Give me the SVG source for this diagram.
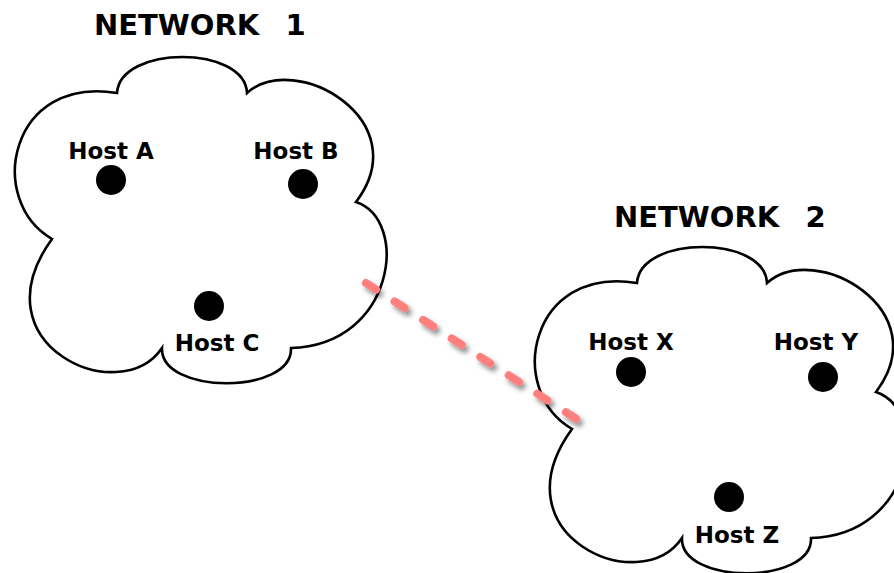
<svg xmlns="http://www.w3.org/2000/svg" xmlns:xlink="http://www.w3.org/1999/xlink" width="894" height="573" viewBox="0 0 894 573">
<style>
.cloud{fill:#fff;stroke:#000;stroke-width:2.6;stroke-linejoin:miter}
.dot{fill:#000}
.lbl{font-family:"DejaVu Sans",sans-serif;font-weight:bold;font-size:23px;fill:#000;text-anchor:middle}
.title{font-family:"DejaVu Sans",sans-serif;font-weight:bold;font-size:29px;fill:#000;word-spacing:3px}
.link{fill:none;stroke:#FF7F7F;stroke-width:8;stroke-linecap:round;stroke-dasharray:12 22}
</style>
<defs>
<path id="cloudShape" d="M52,239 C-15,200 10,75 117,93 C120,45 245,45 247,93 C295,50 418,120 356,202 C410,220 395,345 291,348 C293,395 160,395 162,348 C120,410 -25,345 52,239 Z"/>
<filter id="shadow" x="-20%" y="-20%" width="140%" height="140%">
<feDropShadow dx="3" dy="4" stdDeviation="2.5" flood-color="#000" flood-opacity="0.45"/>
</filter>
</defs>
<g id="network1">
<use xlink:href="#cloudShape" class="cloud"/>
<text class="title" x="94" y="35" xml:space="preserve">NETWORK  1</text>
</g>
<g id="network2">
<use xlink:href="#cloudShape" class="cloud" transform="translate(520,190)"/>
<text class="title" x="614" y="227" xml:space="preserve">NETWORK  2</text>
</g>
<g id="hostA"><circle class="dot" cx="111" cy="180" r="15"/><text class="lbl" x="111" y="159">Host A</text></g>
<g id="hostB"><circle class="dot" cx="303" cy="184" r="15"/><text class="lbl" x="296" y="159">Host B</text></g>
<g id="hostC"><circle class="dot" cx="209" cy="306" r="15"/><text class="lbl" x="217" y="351">Host C</text></g>
<g id="hostX"><circle class="dot" cx="631" cy="372" r="15"/><text class="lbl" x="631" y="350">Host X</text></g>
<g id="hostY"><circle class="dot" cx="823" cy="377" r="15"/><text class="lbl" x="816" y="350">Host Y</text></g>
<g id="hostZ"><circle class="dot" cx="729" cy="497" r="15"/><text class="lbl" x="737" y="543">Host Z</text></g>
<g id="connectors">
<line class="link" x1="366" y1="283" x2="581" y2="422" filter="url(#shadow)"/>
</g>
</svg>
